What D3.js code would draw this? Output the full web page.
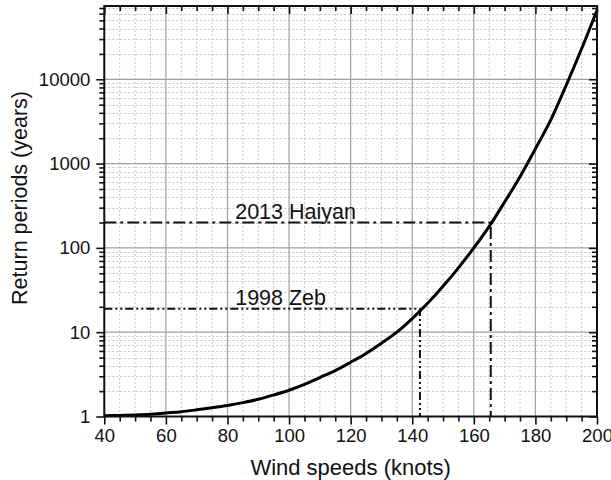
<!DOCTYPE html>
<html><head><meta charset="utf-8">
<script src="https://cdn.jsdelivr.net/npm/d3@7"></script>
<style>body{margin:0;background:#fff}svg{display:block}</style>
</head><body>
<svg id="chart" width="611" height="480"></svg>
<script>
// ---- data ----
const windSpeeds = [40,45,50,55,60,65,70,75,80,85,90,95,100,105,110,115,120,125,130,135,140,145,150,155,160,165,170,175,180,185,190,195,200];
const returnPeriods = [1.02,1.03,1.04,1.06,1.10,1.14,1.20,1.27,1.35,1.46,1.60,1.80,2.05,2.4,2.9,3.5,4.4,5.6,7.4,10,14.5,22,35,58,100,180,350,700,1500,3300,8500,23000,66000];
const xTickValues = [40,60,80,100,120,140,160,180,200];
const yTickValues = [1,10,100,1000,10000];
const yTickLabels = ["1","10","100","1000","10000"];
const eventNames = ["1998 Zeb","2013 Haiyan"];
const eventSpeeds = [142.5,165.5];
const eventPeriods = [19,200];
const eventLabelSpeed = 82.5;
const xTitle = "Wind speeds (knots)";
const yTitle = "Return periods (years)";

// ---- layout ----
const W = 611, H = 480;
const L = 104.3, R = 597, T = 6, B = 416.5;
const FONT = "'Liberation Sans', Arial, sans-serif";

const svg = d3.select("#chart");
const x = d3.scaleLinear().domain([40,200]).range([L,R]);
const y = d3.scaleLog().domain([1,74000]).range([B,T]);

const xMinor = d3.range(40,201,5).filter(v => v % 20 !== 0);
const yMinor = [];
for (let d = 1; d <= 10000; d *= 10) for (let k = 2; k <= 9; k++) { const v = d*k; if (v <= 74000) yMinor.push(v); }

// grid
const g = svg.append("g");
g.selectAll(".xmn").data(xMinor).join("line")
  .attr("x1", d=>x(d)).attr("x2", d=>x(d)).attr("y1", T).attr("y2", B)
  .attr("stroke", "#c8c8c8").attr("stroke-width", 1).attr("stroke-dasharray", "2,2");
g.selectAll(".ymn").data(yMinor).join("line")
  .attr("x1", L).attr("x2", R).attr("y1", d=>Math.round(y(d))+0.5).attr("y2", d=>Math.round(y(d))+0.5)
  .attr("stroke", "#c8c8c8").attr("stroke-width", 1).attr("stroke-dasharray", "2,2");
g.selectAll(".xmj").data(xTickValues).join("line")
  .attr("x1", d=>x(d)).attr("x2", d=>x(d)).attr("y1", T).attr("y2", B)
  .attr("stroke", "#a0a0a0").attr("stroke-width", 1.2);
g.selectAll(".ymj").data(yTickValues).join("line")
  .attr("x1", L).attr("x2", R).attr("y1", d=>y(d)).attr("y2", d=>y(d))
  .attr("stroke", "#a0a0a0").attr("stroke-width", 1.2);

// event lines
const dashes = ["8,3,2,3,2,3", "12,4,3,4"];
eventSpeeds.forEach((s,i) => {
  svg.append("path")
    .attr("d", `M${L},${y(eventPeriods[i])}H${x(s)}V${B}`)
    .attr("fill","none").attr("stroke","#111").attr("stroke-width",2)
    .attr("stroke-dasharray", dashes[i]);
  svg.append("text")
    .attr("x", x(eventLabelSpeed)).attr("y", y(eventPeriods[i]) - 4)
    .attr("font-family", FONT).attr("font-size", 21.5).attr("fill","#111")
    .text(eventNames[i]);
});

// curve
const line = d3.line().x((d,i)=>x(windSpeeds[i])).y(d=>y(d)).curve(d3.curveMonotoneX);
svg.append("path").datum(returnPeriods).attr("d", line)
  .attr("fill","none").attr("stroke","#000").attr("stroke-width",3);

// axes
function styleAxis(sel){ sel.select(".domain").remove(); sel.selectAll("line").attr("stroke","#111").attr("stroke-width",1.6); }
const axB = svg.append("g").attr("transform",`translate(0,${B})`)
  .call(d3.axisBottom(x).tickValues(xTickValues).tickSize(8).tickSizeOuter(0).tickFormat(d3.format("d")));
styleAxis(axB);
axB.selectAll("text").attr("font-family",FONT).attr("font-size",18.5).attr("fill","#111").attr("dy","0.71em").attr("y",12.5);
const axBm = svg.append("g").attr("transform",`translate(0,${B})`)
  .call(d3.axisBottom(x).tickValues(xMinor).tickSize(5).tickFormat(""));
styleAxis(axBm);
const axT = svg.append("g").attr("transform",`translate(0,${T})`)
  .call(d3.axisBottom(x).tickValues(xTickValues).tickSize(8).tickFormat(""));
styleAxis(axT);
const axTm = svg.append("g").attr("transform",`translate(0,${T})`)
  .call(d3.axisBottom(x).tickValues(xMinor).tickSize(5).tickFormat(""));
styleAxis(axTm);

const axL = svg.append("g").attr("transform",`translate(${L},0)`)
  .call(d3.axisLeft(y).tickValues(yTickValues).tickSize(8).tickFormat((d,i)=>yTickLabels[i]));
styleAxis(axL);
axL.selectAll("text").attr("font-family",FONT).attr("font-size",18.5).attr("fill","#111").attr("x",-14);
const axLm = svg.append("g").attr("transform",`translate(${L},0)`)
  .call(d3.axisLeft(y).tickValues(yMinor).tickSize(5).tickFormat(""));
styleAxis(axLm);
const axR = svg.append("g").attr("transform",`translate(${R},0)`)
  .call(d3.axisLeft(y).tickValues(yTickValues).tickSize(8).tickFormat(""));
styleAxis(axR);
const axRm = svg.append("g").attr("transform",`translate(${R},0)`)
  .call(d3.axisLeft(y).tickValues(yMinor).tickSize(5).tickFormat(""));
styleAxis(axRm);

// frame
svg.append("rect").attr("x",L).attr("y",T).attr("width",R-L).attr("height",B-T)
  .attr("fill","none").attr("stroke","#111").attr("stroke-width",2);

// titles
svg.append("text").attr("x",(L+R)/2).attr("y",475).attr("text-anchor","middle")
  .attr("font-family",FONT).attr("font-size",22).attr("fill","#111").text(xTitle);
svg.append("text").attr("transform",`translate(27,198) rotate(-90)`).attr("text-anchor","middle")
  .attr("font-family",FONT).attr("font-size",21.5).attr("fill","#111").text(yTitle);
</script>
</body></html>
